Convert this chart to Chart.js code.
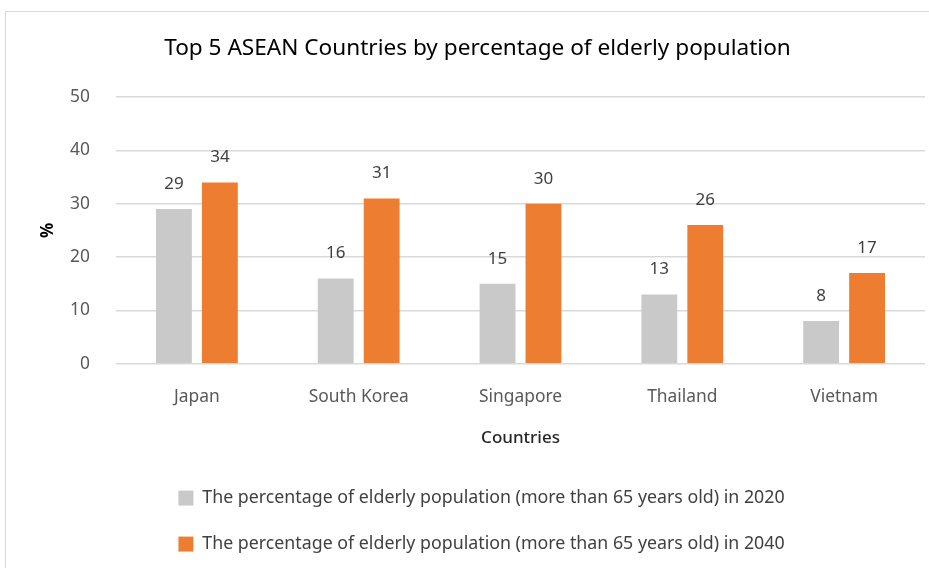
<!DOCTYPE html>
<html>
<head>
<meta charset="utf-8">
<script src="https://cdn.jsdelivr.net/npm/chart.js@4/dist/chart.umd.min.js"></script>
<style>
  html, body { margin: 0; padding: 0; background: #fff; }
  #wrap { position: relative; width: 929px; height: 568px; overflow: hidden; }
  #frame {
    position: absolute; left: 5px; top: 11px; width: 1000px; height: 700px;
    border: 1px solid #d9d9d9;
  }
  #chart { position: absolute; left: 0; top: 0; }
</style>
</head>
<body>
<div id="wrap">
  <div id="frame"></div>
  <canvas id="chart" width="929" height="568"></canvas>
</div>
<script>
const countries = ["Japan", "South Korea", "Singapore", "Thailand", "Vietnam"];
const elderly2020 = [29, 16, 15, 13, 8];
const elderly2040 = [34, 31, 30, 26, 17];
const yTicks = [0, 10, 20, 30, 40, 50];

const FONT = "'Noto Sans', 'DejaVu Sans', sans-serif";

// writes each bar's value above it
const valueLabels = {
  id: "valueLabels",
  afterDatasetsDraw(chart) {
    const ctx = chart.ctx;
    ctx.save();
    ctx.font = "17px " + FONT;
    ctx.fillStyle = "#404040";
    ctx.textAlign = "center";
    ctx.textBaseline = "middle";
    chart.data.datasets.forEach((ds, i) => {
      chart.getDatasetMeta(i).data.forEach((bar, j) => {
        ctx.fillText(ds.data[j], bar.x, bar.y - 25);
      });
    });
    ctx.restore();
  }
};

// nudge the title and legend a bit to the right, legend a bit down
const blockShift = {
  id: "blockShift",
  afterUpdate(chart) {
    chart.titleBlock.left += 15;
    chart.titleBlock.right += 15;
    chart.legend.left += 19;
    chart.legend.right += 19;
    chart.legend.top += 1;
    chart.legend.bottom += 1;
  }
};

new Chart(document.getElementById("chart"), {
  type: "bar",
  data: {
    labels: countries,
    datasets: [
      {
        label: "The percentage of elderly population (more than 65 years old) in 2020",
        data: elderly2020,
        backgroundColor: "#c9c9c9",
      },
      {
        label: "The percentage of elderly population (more than 65 years old) in 2040",
        data: elderly2040,
        backgroundColor: "#ed7d31",
      },
    ],
  },
  options: {
    responsive: false,
    animation: false,
    categoryPercentage: 0.568,
    barPercentage: 0.78,
    layout: { padding: { left: 0, right: 4, top: 35, bottom: 6 } },
    scales: {
      x: {
        grid: { display: false },
        border: { display: false },
        ticks: { color: "#595959", font: { family: FONT, size: 17.4 }, padding: 15 },
        title: {
          display: true,
          text: "Countries",
          color: "#262626",
          font: { family: FONT, size: 17, weight: "500" },
          padding: { top: 5, bottom: 12 },
        },
      },
      y: {
        min: 0,
        max: 50,
        afterBuildTicks(scale) {
          scale.ticks = yTicks.map((v) => ({ value: v }));
        },
        afterFit(scale) {
          scale.width = 116;
        },
        grid: { color: "#d9d9d9", lineWidth: 1.5, drawTicks: false },
        border: { display: false },
        ticks: { color: "#595959", font: { family: FONT, size: 17.4 }, padding: 26 },
        title: {
          display: true,
          text: "%",
          color: "#000",
          font: { family: FONT, size: 17, weight: "bold" },
          padding: { top: 38, bottom: 0 },
        },
      },
    },
    plugins: {
      title: {
        display: true,
        text: "Top 5 ASEAN Countries by percentage of elderly population",
        color: "#000",
        font: { family: FONT, size: 22.6, weight: "normal" },
        padding: { top: 0, bottom: 35 },
      },
      legend: {
        position: "bottom",
        labels: {
          color: "#404040",
          font: { family: FONT, size: 17.8 },
          boxWidth: 15,
          boxHeight: 15,
          padding: 28.2,
        },
      },
      tooltip: { enabled: false },
    },
  },
  plugins: [valueLabels, blockShift],
});
</script>
</body>
</html>
